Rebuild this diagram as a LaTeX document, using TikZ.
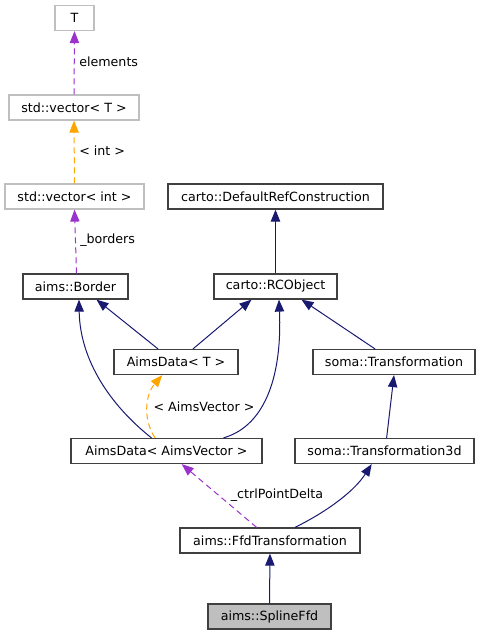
\documentclass[tikz,border=0pt]{standalone}
\usepackage{fontspec}
\setmainfont{DejaVu Sans}
\usetikzlibrary{arrows.meta,calc}
\definecolor{navy}{HTML}{191970}
\definecolor{orch}{HTML}{9A32CD}
\definecolor{orng}{HTML}{FFA500}
\definecolor{gr}{HTML}{BFBFBF}
\definecolor{bd}{HTML}{404040}
\begin{document}
\begin{tikzpicture}[x=0.75pt,y=-0.75pt,
  box/.style={draw=bd, line width=0.9pt, fill=white, rectangle, minimum height=18.75pt, inner sep=0pt, font=\fontsize{9.5}{11}\selectfont, text=black},
  gbox/.style={box, draw=gr},
  tip/.style={-{Triangle[length=9pt,width=7pt]}},
  inh/.style={draw=navy, line width=0.75pt, tip},
  usep/.style={draw=orch, line width=0.75pt, dash pattern=on 4.5pt off 3pt, tip},
  tmpl/.style={draw=orng, line width=0.75pt, dash pattern=on 4.5pt off 3pt, tip},
  lbl/.style={font=\fontsize{9.5}{11}\selectfont, inner sep=0pt, text=black}
]
\useasboundingbox (0,0) rectangle (483,636);
\node[gbox, minimum width=29.25pt] (T) at (74.5,18) {T};
\node[gbox, minimum width=97.5pt] (vT) at (74,107.5) {std::vector< T >};
\node[gbox, minimum width=104.25pt] (vI) at (74.5,196.5) {std::vector< int >};
\node[box, minimum width=161.25pt] (DRC) at (275.5,196.5) {carto::DefaultRefConstruction};
\node[box, minimum width=78.75pt] (B) at (75.5,286.5) {aims::Border};
\node[box, minimum width=92.25pt] (RC) at (275.5,286.5) {carto::RCObject};
\node[box, minimum width=93pt] (ADT) at (176,362) {AimsData< T >};
\node[box, minimum width=121.5pt] (ST) at (394,362) {soma::Transformation};
\node[box, minimum width=143.25pt] (ADV) at (166.5,451) {AimsData< AimsVector >};
\node[box, minimum width=134.25pt] (ST3) at (384.5,451) {soma::Transformation3d};
\node[box, minimum width=135pt] (FFD) at (270,540.5) {aims::FfdTransformation};
\node[box, minimum width=92.25pt, fill=gr] (SF) at (269.5,616.5) {aims::SplineFfd};

\draw[usep] (vT.north) -- (T.south);
\node[lbl, anchor=west] (l1) at (79,62) {elements};
\draw[tmpl] (vI.north) -- (vT.north |- vT.south);
\node[lbl, anchor=west] (l2) at (79,151) {< int >};
\draw[usep] ([xshift=0.75pt]B.north) -- (vI.south);
\node[lbl, anchor=west] (l3) at (80,240) {\_borders};
\draw[inh] (RC.north) -- (DRC.south);
\draw[inh] ([xshift=-13.5pt]ADT.north) -- ([xshift=15.75pt]B.south);
\draw[inh] ([xshift=12.75pt]ADT.north) -- ([xshift=-18pt]RC.south);
\draw[inh] ([xshift=-14.25pt]ST.north) -- ([xshift=19.5pt]RC.south);
\draw[inh] ([xshift=-11.25pt]ADV.north) .. controls (110,405) and (80,360) .. ([xshift=2.6pt]B.south);
\draw[inh] ([xshift=42.75pt]ADV.north) .. controls (268,425) and (282,370) .. ([xshift=2.6pt]RC.south);
\draw[tmpl] ([xshift=-8.6pt]ADV.north) .. controls (143,420) and (145,395) .. ([xshift=-10.3pt]ADT.south);
\node[lbl] (l4) at (204,407) {< AimsVector >};
\draw[inh] ([xshift=1.6pt]ST3.north) -- (ST.south);
\draw[usep] ([xshift=-10pt]FFD.north) -- ([xshift=11.4pt]ADV.south);
\node[lbl] (l5) at (277,495) {\_ctrlPointDelta};
\draw[inh] ([xshift=18.75pt]FFD.north) .. controls (330,510) and (355,490) .. ([xshift=-9.6pt]ST3.south);
\draw[inh] (SF.north) -- (FFD.south);
\end{tikzpicture}
\end{document}
